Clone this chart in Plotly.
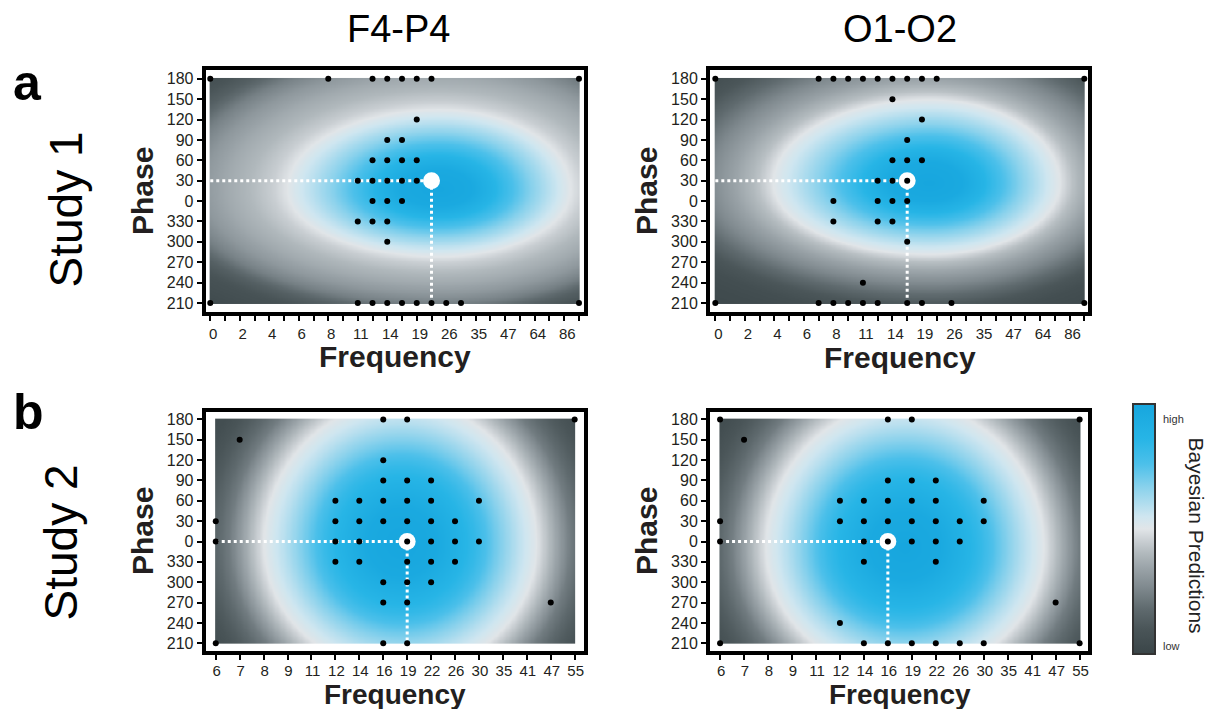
import numpy as np
import plotly.graph_objects as go

# ---------------- data ----------------
PHASES = ["210", "240", "270", "300", "330", "0", "30", "60", "90", "120", "150", "180"]

FREQ_S1 = [0, 1, 2, 3, 4, 5, 6, 7, 8, 9, 11, 12, 14, 16, 19, 22, 26, 30, 35, 41, 47, 55, 64, 75, 86, 100]
FREQ_S1_LABELS = ["0", "", "2", "", "4", "", "6", "", "8", "", "11", "", "14", "", "19", "",
                  "26", "", "35", "", "47", "", "64", "", "86", ""]
FREQ_S2 = [6, 7, 8, 9, 11, 12, 14, 16, 19, 22, 26, 30, 35, 41, 47, 55]
FREQ_S2_LABELS = [str(f) for f in FREQ_S2]

S1_F4P4_POINTS = [("180", [0, 8, 12, 14, 16, 19, 22, 100]), ("120", [19]), ("90", [14, 16]),
                  ("60", [12, 14, 16, 19]), ("30", [11, 12, 14, 16, 19]), ("0", [12, 14, 16]),
                  ("330", [11, 12, 14]), ("300", [14]),
                  ("210", [0, 11, 12, 14, 16, 19, 22, 26, 30, 100])]
S1_F4P4_BEST = (22, "30")

S1_O1O2_POINTS = [("180", [0, 7, 8, 9, 11, 12, 14, 16, 19, 22, 100]), ("150", [14]), ("120", [19]),
                  ("90", [16]), ("60", [14, 16, 19]), ("30", [12, 14, 16]), ("0", [8, 12, 14, 16]),
                  ("330", [8, 12, 14]), ("300", [16]), ("240", [11]),
                  ("210", [0, 7, 8, 9, 11, 12, 16, 19, 26, 100])]
S1_O1O2_BEST = (16, "30")

S2_F4P4_POINTS = [("180", [16, 19, 55]), ("150", [7]), ("120", [16]), ("90", [16, 19, 22]),
                  ("60", [12, 14, 16, 19, 22, 30]), ("30", [6, 12, 14, 16, 19, 22, 26]),
                  ("0", [6, 12, 14, 19, 22, 26, 30]), ("330", [12, 14, 19, 22, 26]),
                  ("300", [16, 19, 22]), ("270", [16, 19, 47]), ("210", [6, 16, 19])]
S2_F4P4_BEST = (19, "0")

S2_O1O2_POINTS = [("180", [6, 16, 19, 55]), ("150", [7]), ("90", [16, 19, 22]),
                  ("60", [12, 14, 16, 19, 22, 30]), ("30", [6, 12, 14, 16, 19, 22, 26, 30]),
                  ("0", [6, 14, 16, 19, 22, 26]), ("330", [14, 22]), ("270", [47]), ("240", [12]),
                  ("210", [6, 14, 16, 19, 22, 26, 30, 55])]
S2_O1O2_BEST = (16, "0")

# Bayesian prediction surfaces: peak position (grid units),
# distance to the pale ring on each side, and prediction level vs. ring-normalised distance
RING_DIST = [0, 0.25, 0.4, 0.55, 0.7, 0.85, 1.0, 1.1, 1.25, 1.4, 1.55, 1.7, 1.85, 2.0, 2.3, 3.0]
S1_F4P4_SURF = dict(peak=(15.5, 5.6), ring_x=(10.3, 8.9), ring_y=(3.3, 3.9),
                    level=[1.0, 0.97, 0.88, 0.77, 0.67, 0.58, 0.50, 0.45, 0.40, 0.36, 0.31, 0.24, 0.14, 0.08, 0.03, 0.0])
S1_O1O2_SURF = dict(peak=(14.5, 5.9), ring_x=(10.6, 8.8), ring_y=(3.5, 4.1),
                    level=[1.0, 0.97, 0.88, 0.77, 0.67, 0.58, 0.50, 0.42, 0.34, 0.27, 0.19, 0.11, 0.06, 0.04, 0.02, 0.0])
S2_F4P4_SURF = dict(peak=(7.75, 4.9), ring_x=(5.75, 5.65), ring_y=(6.3, 7.0),
                    level=[1.0, 0.97, 0.90, 0.82, 0.70, 0.59, 0.50, 0.40, 0.23, 0.13, 0.06, 0.03, 0.015, 0.01, 0.0, 0.0])
S2_O1O2_SURF = dict(peak=(7.7, 4.7), ring_x=(5.8, 5.8), ring_y=(6.2, 7.1),
                    level=[1.0, 0.97, 0.90, 0.82, 0.70, 0.59, 0.50, 0.40, 0.23, 0.13, 0.06, 0.03, 0.015, 0.01, 0.0, 0.0])

COLORSCALE = [[0.00, "#3a4548"], [0.10, "#4a5558"], [0.18, "#5f6a6e"], [0.26, "#7d878c"],
              [0.34, "#99a2a7"], [0.40, "#b0b8bc"], [0.46, "#cdd2d6"], [0.50, "#e1e5e8"],
              [0.55, "#cfe6f0"], [0.66, "#8ed3ec"], [0.76, "#4cc0ea"], [0.86, "#27b5e6"],
              [1.00, "#17a6de"]]

# ---------------- layout geometry ----------------
# the page body has an 8px margin, so the figure is drawn 8px in from the window edge
OFF = 8
W, H = 1215 - 2 * OFF, 717 - 2 * OFF
FONT = "Liberation Sans, Arial, Helvetica, sans-serif"
TXT = "#231f20"


def px(x):
    return (x - OFF) / W


def py(y):
    return 1 - (y - OFF) / H


panels = [
    dict(freq=FREQ_S1, labels=FREQ_S1_LABELS, pts=S1_F4P4_POINTS, best=S1_F4P4_BEST, surf=S1_F4P4_SURF,
         box=(205.7, 70, 584, 312), xr=(-0.31, 25.34), yr=(-0.44, 11.43), shift=3, standoff=0),
    dict(freq=FREQ_S1, labels=FREQ_S1_LABELS, pts=S1_O1O2_POINTS, best=S1_O1O2_BEST, surf=S1_O1O2_SURF,
         box=(710, 70, 1088, 312), xr=(-0.36, 25.25), yr=(-0.44, 11.43), shift=3, standoff=0),
    dict(freq=FREQ_S2, labels=FREQ_S2_LABELS, pts=S2_F4P4_POINTS, best=S2_F4P4_BEST, surf=S2_F4P4_SURF,
         box=(205.7, 411.5, 584, 651), xr=(-0.42, 15.39), yr=(-0.38, 11.39), shift=1, standoff=-2),
    dict(freq=FREQ_S2, labels=FREQ_S2_LABELS, pts=S2_O1O2_POINTS, best=S2_O1O2_BEST, surf=S2_O1O2_SURF,
         box=(710, 411.5, 1088, 651), xr=(-0.42, 15.35), yr=(-0.38, 11.39), shift=1, standoff=-2),
]

fig = go.Figure()
layout = dict(width=W, height=H, margin=dict(l=0, r=0, t=0, b=0),
              paper_bgcolor="white", plot_bgcolor="white", showlegend=False,
              font=dict(family=FONT, color=TXT))

for i, p in enumerate(panels, start=1):
    xa = "x" if i == 1 else f"x{i}"
    ya = "y" if i == 1 else f"y{i}"
    nf = len(p["freq"])
    s = p["surf"]
    gx = np.linspace(0, nf - 1, 301)
    gy = np.linspace(0, len(PHASES) - 1, 141)
    X, Y = np.meshgrid(gx, gy)
    cx, cy = s["peak"]
    dx = np.where(X < cx, (X - cx) / s["ring_x"][0], (X - cx) / s["ring_x"][1])
    dy = np.where(Y < cy, (Y - cy) / s["ring_y"][0], (Y - cy) / s["ring_y"][1])
    z = np.interp(np.hypot(dx, dy), RING_DIST, s["level"])
    fig.add_trace(go.Heatmap(x=gx, y=gy, z=z, coloraxis="coloraxis", xaxis=xa, yaxis=ya,
                             zsmooth="best", hoverinfo="skip"))

    bx = p["freq"].index(p["best"][0])
    by = PHASES.index(p["best"][1])
    fig.add_trace(go.Scatter(x=[0, bx, None, bx, bx], y=[by, by, None, by, 0], mode="lines",
                             line=dict(color="white", width=3, dash="dot"),
                             xaxis=xa, yaxis=ya, hoverinfo="skip"))
    fig.add_trace(go.Scatter(x=[bx], y=[by], mode="markers",
                             marker=dict(size=17, color="white"), xaxis=xa, yaxis=ya, hoverinfo="skip"))
    xs, ys = [], []
    for ph, fl in p["pts"]:
        for f in fl:
            xs.append(p["freq"].index(f))
            ys.append(PHASES.index(ph))
    fig.add_trace(go.Scatter(x=xs, y=ys, mode="markers", marker=dict(size=6, color="black"),
                             xaxis=xa, yaxis=ya, hoverinfo="skip"))

    x0, y0, x1, y1 = p["box"]
    common = dict(showline=True, linewidth=4, linecolor="black", mirror=True, showgrid=False,
                  zeroline=False, ticks="outside", ticklen=5, tickwidth=1.5, tickcolor="black",
                  fixedrange=True, tickfont=dict(family=FONT, size=15, color=TXT))
    layout["xaxis" if i == 1 else f"xaxis{i}"] = dict(
        domain=[px(x0), px(x1)], range=list(p["xr"]), anchor=ya,
        tickmode="array", tickvals=list(range(nf)), ticktext=p["labels"],
        ticklabelshift=p["shift"], ticklabelstandoff=p["standoff"], **common)
    ycommon = dict(common)
    ycommon["tickfont"] = dict(family=FONT, size=16, color=TXT)
    layout["yaxis" if i == 1 else f"yaxis{i}"] = dict(
        domain=[py(y1), py(y0)], range=list(p["yr"]), anchor=xa,
        tickmode="array", tickvals=list(range(len(PHASES))), ticktext=PHASES, **ycommon)

layout["coloraxis"] = dict(
    colorscale=COLORSCALE, cmin=0, cmax=1,
    colorbar=dict(thickness=22, thicknessmode="pixels", len=250, lenmode="pixels",
                  x=px(1133), xanchor="left", y=py(528.7), yanchor="middle",
                  xpad=0, ypad=0, outlinewidth=2, outlinecolor="#333333",
                  ticks="", showticklabels=False))


def ann(text, x, y, size, bold=False, angle=0, xanchor="center", color=TXT):
    return dict(text=text, x=px(x), y=py(y), xref="paper", yref="paper", showarrow=False,
                xanchor=xanchor, yanchor="middle", textangle=angle,
                font=dict(family=FONT, size=size, color=color, weight="bold" if bold else "normal"))


annotations = [
    ann("F4-P4", 398, 29, 38, color="black"),
    ann("O1-O2", 900, 29, 38, color="black"),
    ann("a", 11, 83, 50, bold=True, xanchor="left", color="black"),
    ann("b", 11, 412, 50, bold=True, xanchor="left", color="black"),
    ann("Study 1", 65, 209.5, 46, angle=-90, color="black"),
    ann("Study 2", 60, 542.5, 46, angle=-90, color="black"),
    ann("Phase", 142, 191, 30, bold=True, angle=-90),
    ann("Phase", 646, 191, 30, bold=True, angle=-90),
    ann("Phase", 142, 531, 30, bold=True, angle=-90),
    ann("Phase", 646, 531, 30, bold=True, angle=-90),
    ann("Frequency", 395, 356, 30, bold=True),
    ann("Frequency", 900, 357, 30, bold=True),
    ann("Frequency", 395, 694, 28, bold=True),
    ann("Frequency", 900, 694, 28, bold=True),
    ann("high", 1161, 419, 11, xanchor="left", color="#333333"),
    ann("low", 1161, 646, 11, xanchor="left", color="#333333"),
    ann("Bayesian Predictions", 1196, 535.5, 21, angle=90, color="#222222"),
]
layout["annotations"] = annotations

fig.update_layout(**layout)
fig.write_html("out.html", config={"displayModeBar": False})
